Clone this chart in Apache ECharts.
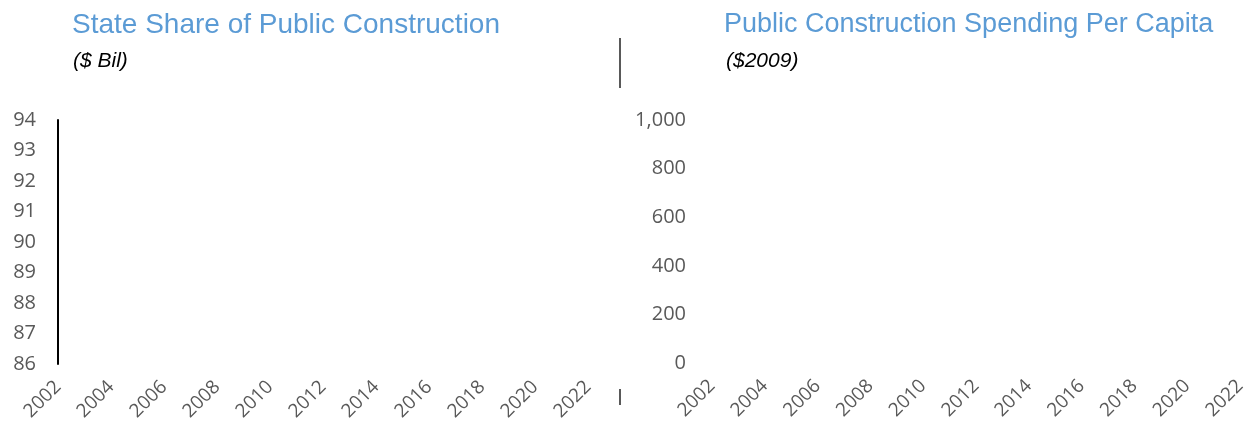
<!DOCTYPE html>
<html>
<head>
<meta charset="utf-8">
<script src="https://cdn.jsdelivr.net/npm/echarts@6/dist/echarts.min.js"></script>
<style>
  html, body { margin: 0; padding: 0; background: #fff; }
  #chart { width: 1252px; height: 432px; }
</style>
</head>
<body>
<div id="chart"></div>
<script>
  // years on the x axis (labels shown every other year)
  const years = ['2002', '2003', '2004', '2005', '2006', '2007', '2008', '2009', '2010', '2011',
    '2012', '2013', '2014', '2015', '2016', '2017', '2018', '2019', '2020', '2021', '2022'];
  // no values are plotted in the reference: both panels are empty
  const stateShare = [];
  const perCapita = [];
  const leftTicks = [86, 94, 1];      // min, max, step
  const rightTicks = [0, 1000, 200];  // min, max, step

  const TITLE_BLUE = '#5b9bd5';
  const LABEL_GREY = '#595959';
  const narrow = '"Liberation Sans Narrow", "Arial Narrow", "Liberation Sans", sans-serif';
  const tickFont = '"Open Sans", sans-serif';

  function xAxisFor(gridIndex) {
    return {
      type: 'category', gridIndex: gridIndex, data: years, boundaryGap: false,
      axisLine: { show: false }, axisTick: { show: false },
      axisLabel: {
        interval: 1, rotate: 45, margin: 20, color: LABEL_GREY,
        fontFamily: tickFont, fontSize: 19
      },
      splitLine: { show: false }
    };
  }

  const chart = echarts.init(document.getElementById('chart'));
  chart.setOption({
    animation: false,
    title: [
      { text: 'State Share of Public Construction', left: 67, top: 6,
        textStyle: { color: TITLE_BLUE, fontFamily: narrow, fontSize: 28, fontWeight: 500 } },
      { text: '($ Bil)', left: 68, top: 46,
        textStyle: { color: '#000', fontFamily: narrow, fontSize: 21, fontStyle: 'italic', fontWeight: 'normal' } },
      { text: 'Public Construction Spending Per Capita', left: 719, top: 6,
        textStyle: { color: TITLE_BLUE, fontFamily: narrow, fontSize: 27, fontWeight: 500 } },
      { text: '($2009)', left: 721, top: 46,
        textStyle: { color: '#000', fontFamily: narrow, fontSize: 21, fontStyle: 'italic', fontWeight: 'normal' } }
    ],
    graphic: [
      { type: 'line', shape: { x1: 620, y1: 38, x2: 620, y2: 88 },
        style: { stroke: '#595959', lineWidth: 2 } },
      { type: 'line', shape: { x1: 620, y1: 389, x2: 620, y2: 405 },
        style: { stroke: '#595959', lineWidth: 2 } }
    ],
    grid: [
      { left: 58, top: 120, width: 530, height: 244 },
      { left: 712, top: 120, width: 528, height: 243 }
    ],
    xAxis: [xAxisFor(0), xAxisFor(1)],
    yAxis: [
      {
        type: 'value', gridIndex: 0, min: leftTicks[0], max: leftTicks[1], interval: leftTicks[2],
        axisLine: { show: true, lineStyle: { color: '#000', width: 2 } },
        axisTick: { show: false }, splitLine: { show: false },
        axisLabel: { margin: 22, color: LABEL_GREY, fontFamily: tickFont, fontSize: 20 }
      },
      {
        type: 'value', gridIndex: 1, min: rightTicks[0], max: rightTicks[1], interval: rightTicks[2],
        axisLine: { show: false }, axisTick: { show: false }, splitLine: { show: false },
        axisLabel: {
          margin: 26, color: LABEL_GREY, fontFamily: tickFont, fontSize: 20,
          formatter: function (v) { return v.toLocaleString('en-US'); }
        }
      }
    ],
    series: [
      { type: 'line', xAxisIndex: 0, yAxisIndex: 0, data: stateShare },
      { type: 'line', xAxisIndex: 1, yAxisIndex: 1, data: perCapita }
    ]
  });
</script>
</body>
</html>
